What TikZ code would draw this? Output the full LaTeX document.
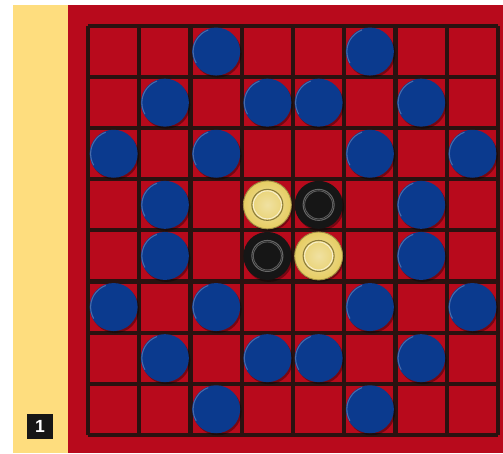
\documentclass[tikz,border=0pt]{standalone}
\usepackage{tikz}
\usepackage{fontspec}
\setsansfont{Liberation Sans}
\definecolor{boardred}{HTML}{B80A1C}
\definecolor{stripyellow}{HTML}{FEDD7E}
\definecolor{gridline}{HTML}{2A1210}
\definecolor{discblue}{HTML}{0B3A8E}
\definecolor{discgold}{HTML}{E6CD63}
\definecolor{discblack}{HTML}{161616}

\begin{document}
\begin{tikzpicture}[x=0.02cm, y=-0.02cm, line join=round]
  % picture in pixel units, y running downwards
  \useasboundingbox (0,0) rectangle (503,453);
  \fill[white] (0,0) rectangle (503,453);

  % yellow side strip and red board
  \fill[stripyellow] (13,5) rectangle (68,453);
  \fill[boardred] (68,5) rectangle (503,453);

  % 8x8 grid
  \foreach \i in {0,...,8} {
    \draw[gridline, line width=2.3pt] ({88+\i*51.25},26) -- ({88+\i*51.25},435);
    \draw[gridline, line width=2.3pt] (88,{26+\i*51.1}) -- (498,{26+\i*51.1});
  }

  % blue discs (column/row)
  \foreach \c/\r in {2/0,5/0, 1/1,3/1,4/1,6/1, 0/2,2/2,5/2,7/2,
                     1/3,6/3, 1/4,6/4, 0/5,2/5,5/5,7/5,
                     1/6,3/6,4/6,6/6, 2/7,5/7} {
    \begin{scope}[shift={({88+(\c+0.5)*51.25},{26+(\r+0.5)*51.1})}]
      \fill[black, opacity=0.35] (1.5,2) circle (24);   % shadow
      \fill[discblue] (0,0) circle (24);
      \draw[white, opacity=0.25, line width=0.6pt] (150:23) arc (150:250:23);
    \end{scope}
  }

  % gold discs in the centre
  \foreach \c/\r in {3/3, 4/4} {
    \begin{scope}[shift={({88+(\c+0.5)*51.25},{26+(\r+0.5)*51.1})}]
      \fill[black, opacity=0.35] (1.5,2) circle (24);   % shadow
      \shade[inner color=discgold!60!white, outer color=discgold] (0,0) circle (24);
      \draw[black!30!discgold, line width=0.5pt] (0,0) circle (24);
      \draw[discgold!60!black, line width=0.6pt] (0,0) circle (15.5);
      \draw[white!70!discgold, line width=0.5pt] (0,0) circle (14);
    \end{scope}
  }

  % black discs in the centre
  \foreach \c/\r in {4/3, 3/4} {
    \begin{scope}[shift={({88+(\c+0.5)*51.25},{26+(\r+0.5)*51.1})}]
      \fill[black, opacity=0.35] (1.5,2) circle (24);   % shadow
      \fill[discblack] (0,0) circle (24);
      \draw[black!60, line width=0.6pt] (0,0) circle (15.5);
      \draw[white!30!discblack, line width=0.5pt] (0,0) circle (14);
    \end{scope}
  }

  % page number
  \node[fill=discblack, text=white, font=\sffamily\bfseries, inner sep=0pt,
        minimum width=26*0.02cm, minimum height=25*0.02cm] (pagenum) at (40,426) {1};
\end{tikzpicture}
\end{document}
